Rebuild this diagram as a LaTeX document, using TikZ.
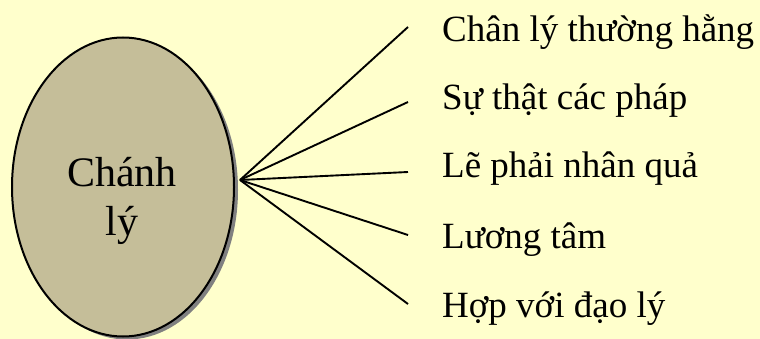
\documentclass[tikz,border=0pt]{standalone}
\usepackage{fontspec}
\setmainfont{Liberation Serif}
\usepackage{tikz}
\usetikzlibrary{shapes.geometric, shadows}
\definecolor{nenVang}{RGB}{255, 255, 204}
\definecolor{nauKhaki}{RGB}{197, 190, 153}

\begin{document}
\begin{tikzpicture}[x=1pt, y=-1pt,
        nhanh/.style={font=\fontsize{37}{40}\selectfont, anchor=base west, inner sep=0pt},
        tia/.style={line width=1.9pt}]
    \fill[nenVang] (0,0) rectangle (760,339);
    \useasboundingbox (0,0) rectangle (760,339);

    \node[ellipse, draw, line width=2pt, fill=nauKhaki, minimum width=222pt, minimum height=299pt,
          inner sep=0pt,
          drop shadow={shadow xshift=4pt, shadow yshift=-3pt, fill=black!50, opacity=1}]
        (chanhly) at (123,187) {};
    \node[anchor=base, inner sep=0pt, align=center, font=\fontsize{42}{49}\selectfont]
        (chanhlyChu) at (122,235) {Chánh\\lý};

    \coordinate (goc) at (240,180);
    \coordinate (d1) at (408,27);
    \coordinate (d2) at (408,102);
    \coordinate (d3) at (408,172);
    \coordinate (d4) at (408,235);
    \coordinate (d5) at (408,304);

    \draw[tia] (goc) -- (d1);
    \draw[tia] (goc) -- (d2);
    \draw[tia] (goc) -- (d3);
    \draw[tia] (goc) -- (d4);
    \draw[tia] (goc) -- (d5);

    \node[nhanh] (chanly) at (442,42) {Chân lý thường hằng};
    \node[nhanh] (suthat) at (442,110) {Sự thật các pháp};
    \node[nhanh] (lephai) at (442,178) {Lẽ phải nhân quả};
    \node[nhanh] (luongtam) at (442,248) {Lương tâm};
    \node[nhanh] (hopvoi) at (442,317) {Hợp với đạo lý};
\end{tikzpicture}
\end{document}
